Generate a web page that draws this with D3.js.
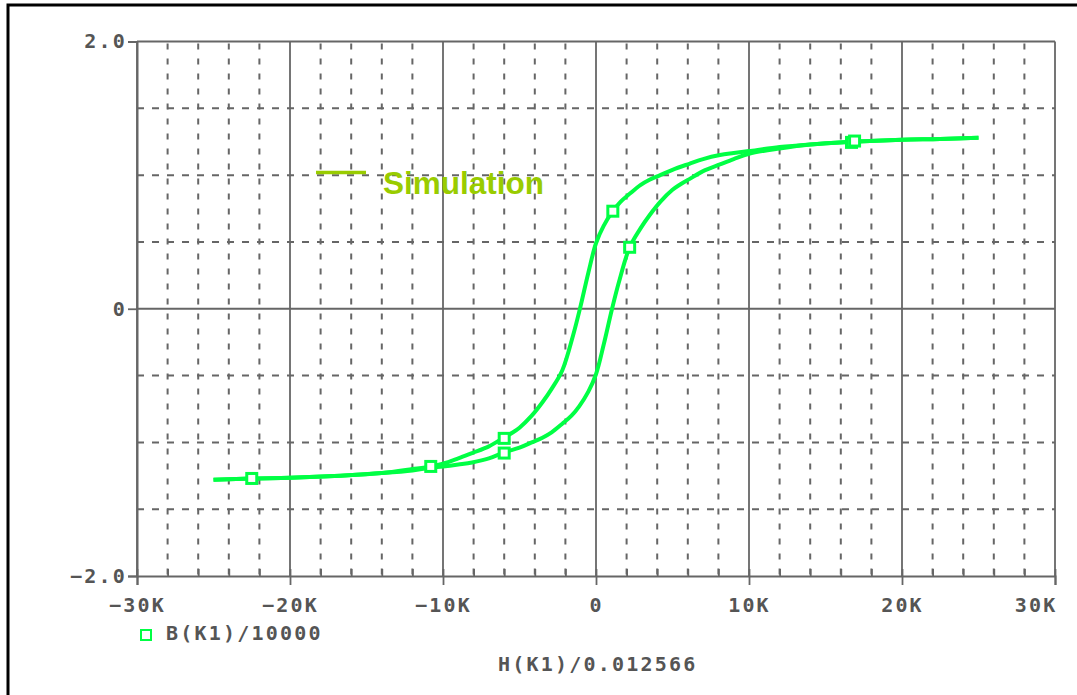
<!DOCTYPE html>
<html>
<head>
<meta charset="utf-8">
<script src="https://cdn.jsdelivr.net/npm/d3@7"></script>
<style>
  body { margin: 0; background: #fff; }
  .lbl { font-family: "DejaVu Sans Mono", monospace; font-weight: bold; font-size: 20px; fill: #555; letter-spacing: 2.2px; }
</style>
</head>
<body>
<svg id="plot" width="1077" height="695"></svg>
<script>
/* Data */
// descending branch (upper), H in A/m, B in T
var upperH = [25000, 22500, 20000, 16700, 14000, 12000, 10000, 9000, 8100, 7000, 6100, 5000, 4200, 3500, 2900, 2200, 1600, 1100, 500, 0,
  -500, -1050, -1500, -2200, -2900, -3500, -4200, -5000, -5500, -6100, -7000, -8100, -9000, -10000, -10800, -12000, -14000, -16700, -20000, -22500, -25000];
var upperB = [1.28, 1.27, 1.265, 1.25, 1.23, 1.21, 1.18, 1.165, 1.15, 1.12, 1.085, 1.04, 1.0, 0.965, 0.925, 0.86, 0.80, 0.73, 0.62, 0.49,
  0.27, 0, -0.2, -0.46, -0.6, -0.70, -0.80, -0.89, -0.93, -0.97, -1.03, -1.08, -1.12, -1.16, -1.18, -1.2, -1.23, -1.25, -1.265, -1.27, -1.28];

// ascending branch (lower)
var lowerH = [-25000, -22500, -20000, -16700, -14000, -12000, -10800, -10000, -9000, -8100, -7000, -6000, -5000, -4200, -3500, -2900, -2200, -1600, -1100, -500, 0,
  500, 1050, 1500, 2200, 2900, 3500, 4200, 5000, 5500, 6100, 7000, 8100, 9000, 10000, 12000, 14000, 16700, 20000, 22500, 25000];
var lowerB = [-1.28, -1.27, -1.265, -1.25, -1.23, -1.21, -1.19, -1.18, -1.165, -1.15, -1.12, -1.075, -1.04, -1.0, -0.965, -0.925, -0.86, -0.80, -0.73, -0.62, -0.49,
  -0.27, 0, 0.2, 0.46, 0.6, 0.70, 0.80, 0.89, 0.93, 0.97, 1.03, 1.08, 1.12, 1.16, 1.2, 1.23, 1.25, 1.265, 1.27, 1.28];

// marker squares
var markH = [16700, 16900, 1100, 2200, -6000, -6000, -10800, -22500];
var markB = [1.245, 1.255, 0.73, 0.46, -0.97, -1.08, -1.18, -1.27];

var xMajor = [-30000, -20000, -10000, 0, 10000, 20000, 30000];
var xMinor = d3.range(-30000, 30001, 2000);
var yMajor = [-2, 0, 2];
var yDash = [-1.5, -1, -0.5, 0.5, 1, 1.5];

var legendName = "Simulation";
var traceName = "B(K1)/10000";
var xTitle = "H(K1)/0.012566";

/* Scales */
var x = d3.scaleLinear().domain([-30000, 30000]).range([137, 1055]);
var y = d3.scaleLinear().domain([-2, 2]).range([576, 41.5]);

var svg = d3.select("svg#plot");
var gridCol = "#666";

// outer frame (only left and top visible)
svg.append("path")
  .attr("d", "M8,695 L8,5 L1077,5")
  .attr("fill", "none")
  .attr("stroke", "#000")
  .attr("stroke-width", 3);

/* Grid */
var grid = svg.append("g");
grid.selectAll("line.vdash")
  .data(xMinor.filter(d => d % 10000 !== 0))
  .enter().append("line")
  .attr("x1", d => x(d)).attr("x2", d => x(d))
  .attr("y1", y(2) + 2).attr("y2", y(-2))
  .attr("stroke", gridCol).attr("stroke-width", 2)
  .attr("stroke-dasharray", "6,9");

grid.selectAll("line.hdash")
  .data(yDash)
  .enter().append("line")
  .attr("x1", x(-30000)).attr("x2", x(30000))
  .attr("y1", d => y(d)).attr("y2", d => y(d))
  .attr("stroke", gridCol).attr("stroke-width", 2)
  .attr("stroke-dasharray", "7,8");

grid.selectAll("line.vsolid")
  .data(xMajor)
  .enter().append("line")
  .attr("x1", d => x(d)).attr("x2", d => x(d))
  .attr("y1", y(2)).attr("y2", y(-2))
  .attr("stroke", gridCol).attr("stroke-width", 1.8);

grid.selectAll("line.hsolid")
  .data([0, 2])
  .enter().append("line")
  .attr("x1", x(-30000)).attr("x2", x(30000))
  .attr("y1", d => y(d)).attr("y2", d => y(d))
  .attr("stroke", gridCol).attr("stroke-width", 1.8);

/* Axes */
function fmtK(d) {
  if (d === 0) return "0";
  return (d < 0 ? "\u2212" : "") + Math.abs(d) / 1000 + "K";
}

var xAxis = svg.append("g")
  .attr("transform", `translate(0,${y(-2)})`)
  .call(d3.axisBottom(x).tickValues(xMajor).tickSize(9).tickPadding(13).tickFormat(fmtK));
xAxis.select(".domain").attr("stroke", gridCol).attr("stroke-width", 2);
xAxis.selectAll(".tick line").attr("stroke", gridCol).attr("stroke-width", 1.8);
xAxis.selectAll(".tick text").attr("class", "lbl").attr("font-size", null).attr("font-family", null);
xAxis.selectAll(".tick text").filter(d => d === 30000).attr("text-anchor", "end").attr("x", 2);

var xMinorAxis = svg.append("g")
  .attr("transform", `translate(0,${y(-2)})`)
  .call(d3.axisTop(x).tickValues(xMinor).tickSize(7).tickFormat(""));
xMinorAxis.select(".domain").remove();
xMinorAxis.selectAll(".tick line").attr("stroke", gridCol).attr("stroke-width", 1.8);

var yAxis = svg.append("g")
  .attr("transform", `translate(${x(-30000)},0)`)
  .call(d3.axisLeft(y).tickValues(yMajor).tickSize(9).tickPadding(1)
    .tickFormat(d => d === 0 ? "0" : d3.format(".1f")(d)));
yAxis.select(".domain").attr("stroke", gridCol).attr("stroke-width", 2);
yAxis.selectAll(".tick line").attr("stroke", gridCol).attr("stroke-width", 1.8);
yAxis.selectAll(".tick text").attr("class", "lbl").attr("font-size", null).attr("font-family", null);

/* Curves */
var line = d3.line()
  .x(d => x(d[0]))
  .y(d => y(d[1]))
  .curve(d3.curveCatmullRom.alpha(0.5));

var traceCol = "#00ff44";
[d3.zip(upperH, upperB), d3.zip(lowerH, lowerB)].forEach(function (pts) {
  svg.append("path")
    .datum(pts)
    .attr("d", line)
    .attr("fill", "none")
    .attr("stroke", traceCol)
    .attr("stroke-width", 4)
    .attr("stroke-linejoin", "round");
});

svg.selectAll("rect.mark")
  .data(d3.zip(markH, markB))
  .enter().append("rect")
  .attr("x", d => x(d[0]) - 5)
  .attr("y", d => y(d[1]) - 5)
  .attr("width", 10).attr("height", 10)
  .attr("fill", "#fff")
  .attr("stroke", traceCol)
  .attr("stroke-width", 3);

/* Legend / labels */
svg.append("line")
  .attr("x1", 316).attr("x2", 366)
  .attr("y1", 172.5).attr("y2", 172.5)
  .attr("stroke", "#99cc00").attr("stroke-width", 3.5);
svg.append("text")
  .attr("x", 383).attr("y", 194)
  .attr("font-family", "'Liberation Sans', Arial, sans-serif")
  .attr("font-weight", "bold")
  .attr("font-size", 31.5)
  .attr("fill", "#99cc00")
  .text(legendName);

svg.append("rect")
  .attr("x", 141).attr("y", 630)
  .attr("width", 10).attr("height", 10)
  .attr("fill", "#fff")
  .attr("stroke", traceCol).attr("stroke-width", 2);
svg.append("text")
  .attr("class", "lbl")
  .attr("x", 166).attr("y", 640)
  .text(traceName);

svg.append("text")
  .attr("class", "lbl")
  .attr("x", 498).attr("y", 670.5)
  .text(xTitle);
</script>
</body>
</html>
